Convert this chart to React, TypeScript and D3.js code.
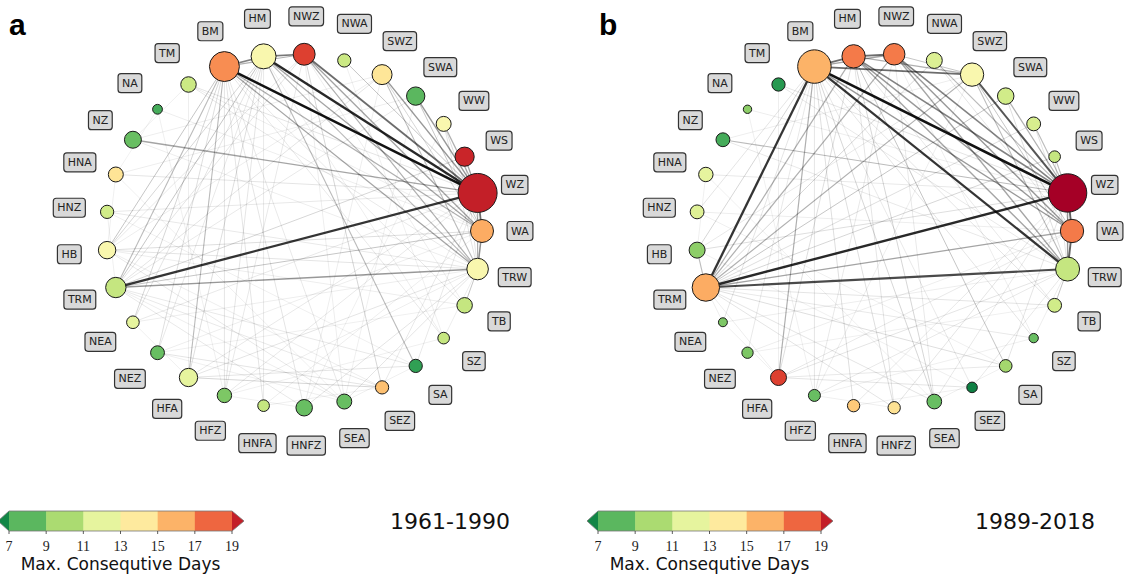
import { useEffect, useRef } from "react";
import * as d3 from "d3";

// circulation types, in circular-layout order (counter-clockwise from the right)
const nodeNames = ["WA", "WZ", "WS", "WW", "SWA", "SWZ", "NWA", "NWZ", "HM", "BM", "TM", "NA", "NZ", "HNA", "HNZ", "HB", "TRM", "NEA", "NEZ", "HFA", "HFZ", "HNFA", "HNFZ", "SEA", "SEZ", "SA", "SZ", "TB", "TRW"];

// max. consecutive days (node colour)
const daysA = [16.2, 20, 19.8, 13, 8, 14.2, 11, 19, 13, 17, 11, 7.5, 8.3, 14.3, 11.2, 13, 10.8, 12, 8.3, 12, 8.8, 10.8, 8.3, 8.3, 15.6, 7, 10.8, 10.8, 13];
const daysB = [17.5, 21, 10.8, 11.4, 11.2, 13, 11.6, 17.5, 17.5, 16, 6.7, 9.2, 7.5, 12, 11.7, 9.2, 16.2, 8.8, 8.8, 19, 8.3, 15.3, 14.4, 8.3, 5.8, 9.8, 8.3, 11.2, 10.8];

// node strength (node area)
const strengthA = [33, 95, 23, 14, 21, 25, 11, 30, 39, 56, 15, 6, 18, 14, 11, 19, 26, 10, 12, 21, 13, 8.5, 17, 14, 11, 11, 8.5, 15, 29];
const strengthB = [34, 92, 8.5, 12, 17, 34, 16, 29, 34, 70, 11, 4.4, 12, 13, 12, 16, 47, 5, 8, 16, 9, 9.5, 9.5, 13.5, 7, 10, 5.5, 12, 36];

type Edge = [string, string, number];

const edgesA: Edge[] = [
  ["BM", "WZ", 1.0], ["HM", "WZ", 0.9], ["TRM", "WZ", 0.85], ["NWZ", "WZ", 0.6], ["BM", "HM", 0.5],
  ["HM", "NWZ", 0.55], ["WZ", "WA", 0.6], ["WA", "TRW", 0.45], ["TRM", "TRW", 0.4], ["NZ", "WZ", 0.35],
  ["SWZ", "WZ", 0.4], ["SWA", "WZ", 0.4], ["WW", "WZ", 0.3], ["WS", "WZ", 0.35], ["BM", "TRW", 0.35],
  ["HM", "WA", 0.35], ["NWZ", "WA", 0.35], ["NWZ", "TRW", 0.3], ["BM", "WA", 0.3], ["HM", "TRW", 0.25],
  ["HM", "SA", 0.25], ["BM", "HFA", 0.25], ["BM", "TRM", 0.25], ["HM", "TRM", 0.2], ["BM", "HB", 0.2],
  ["SWZ", "TRW", 0.25], ["SWA", "WA", 0.2], ["NWA", "WZ", 0.2], ["BM", "NWZ", 0.3], ["TB", "TRW", 0.2],
  ["WZ", "TRW", 0.3], ["BM", "NEA", 0.15], ["HM", "HB", 0.15], ["BM", "NEZ", 0.12], ["HM", "HFA", 0.12],
  ["NWZ", "SEZ", 0.15], ["TRM", "WA", 0.2], ["TRM", "WS", 0.15], ["HFA", "SEZ", 0.15], ["NEZ", "SEZ", 0.1],
  ["HFA", "SA", 0.1], ["HB", "WA", 0.12], ["HNA", "WZ", 0.1], ["HB", "TRW", 0.1], ["TRM", "SWZ", 0.1],
  ["TRM", "HNFZ", 0.08], ["HFA", "TRW", 0.1], ["HNFZ", "TRW", 0.1], ["SEA", "TRW", 0.1], ["SEA", "HB", 0.08],
  ["SA", "TRM", 0.08], ["HFZ", "WZ", 0.08], ["HNFZ", "BM", 0.1], ["SEZ", "TRM", 0.08], ["TM", "WZ", 0.1],
  ["TM", "TRW", 0.08], ["NA", "WA", 0.06], ["HNZ", "WZ", 0.08], ["HNZ", "TRW", 0.08], ["NEA", "WZ", 0.08],
  ["NEZ", "WA", 0.06], ["HFA", "WZ", 0.08], ["HFZ", "NWZ", 0.08], ["HNFA", "HM", 0.08], ["SEA", "BM", 0.08],
  ["SZ", "BM", 0.08], ["SZ", "HM", 0.06], ["TB", "BM", 0.08], ["TB", "HB", 0.06], ["SA", "WZ", 0.08],
  ["SEZ", "WZ", 0.08], ["SEA", "NWZ", 0.06], ["HNFZ", "SWZ", 0.06], ["HFZ", "TRW", 0.06], ["NEA", "TRW", 0.06],
  ["HNA", "SWA", 0.06], ["NZ", "SWZ", 0.06], ["NZ", "TRW", 0.06], ["TM", "HFA", 0.06], ["NA", "HFZ", 0.05],
  ["HB", "SEZ", 0.06], ["HNA", "SEA", 0.05], ["HNZ", "SA", 0.05], ["NEZ", "TB", 0.05], ["HFZ", "SZ", 0.05],
  ["HNFA", "WA", 0.06], ["TRM", "SEA", 0.06], ["HNFZ", "WW", 0.05], ["SEA", "SWA", 0.05], ["SZ", "NWA", 0.05],
  ["TB", "NWZ", 0.06], ["TRM", "NWZ", 0.1], ["TRM", "SWA", 0.08], ["HB", "NWZ", 0.08], ["HB", "SWZ", 0.06],
  ["NEA", "HM", 0.1], ["NEZ", "HM", 0.08], ["HFZ", "HM", 0.1], ["HFZ", "BM", 0.1], ["HNFA", "BM", 0.1],
  ["TM", "WA", 0.06], ["WS", "TRW", 0.1], ["SWZ", "WA", 0.15], ["WW", "WA", 0.12], ["WW", "TRW", 0.1],
  ["HNA", "HB", 0.05], ["HNZ", "TRM", 0.05], ["NEA", "HFA", 0.05], ["HFZ", "HNFZ", 0.05], ["SEA", "SA", 0.05],
  ["SZ", "TRW", 0.06], ["TM", "NZ", 0.05], ["NA", "HNA", 0.04], ["HNFA", "SEZ", 0.05], ["NEZ", "SEA", 0.05],
];

const edgesB: Edge[] = [
  ["BM", "WZ", 1.0], ["BM", "TRW", 0.85], ["BM", "TRM", 0.85], ["TRM", "WZ", 0.9], ["TRM", "TRW", 0.75],
  ["SWZ", "WZ", 0.7], ["BM", "SWZ", 0.6], ["BM", "HM", 0.6], ["HM", "NWZ", 0.6], ["WZ", "WA", 0.65],
  ["WA", "TRW", 0.65], ["HM", "WZ", 0.5], ["NWZ", "WZ", 0.5], ["HM", "WA", 0.4], ["NWZ", "WA", 0.4],
  ["NWZ", "TRW", 0.35], ["HM", "TRW", 0.35], ["BM", "WA", 0.4], ["SWZ", "TRM", 0.3], ["BM", "HFA", 0.3],
  ["TRM", "WA", 0.35], ["TRM", "HM", 0.3], ["TRM", "NWZ", 0.3], ["TRM", "HB", 0.25], ["TRM", "SWA", 0.2],
  ["NZ", "WZ", 0.25], ["SWA", "WZ", 0.3], ["WW", "WZ", 0.25], ["WS", "WZ", 0.25], ["NWA", "WZ", 0.25],
  ["BM", "NWZ", 0.35], ["SEA", "BM", 0.15], ["SEA", "HM", 0.15], ["SA", "HM", 0.2], ["SA", "TRM", 0.12],
  ["WZ", "TRW", 0.4], ["TB", "TRW", 0.2], ["SWZ", "TRW", 0.25], ["TRM", "NWA", 0.15], ["TRM", "WS", 0.15],
  ["TRM", "WW", 0.12], ["TRM", "TB", 0.1], ["TRM", "SZ", 0.08], ["TRM", "HNFZ", 0.1], ["TRM", "SEA", 0.1],
  ["HB", "WZ", 0.12], ["HB", "BM", 0.15], ["HNZ", "BM", 0.1], ["NEA", "BM", 0.1], ["NEZ", "BM", 0.08],
  ["HFZ", "BM", 0.1], ["HNFA", "BM", 0.12], ["HNFZ", "BM", 0.12], ["SZ", "BM", 0.1], ["TB", "BM", 0.1],
  ["SEZ", "BM", 0.08], ["HFA", "HM", 0.12], ["HNFZ", "HM", 0.1], ["HFA", "SEZ", 0.1], ["HFA", "SA", 0.08],
  ["HFA", "TRW", 0.1], ["HFA", "WA", 0.08], ["HNFA", "WZ", 0.08], ["HNFZ", "WZ", 0.1], ["SEA", "WZ", 0.08],
  ["SA", "WZ", 0.1], ["SEZ", "TRW", 0.08], ["NZ", "TRW", 0.08], ["HNA", "WZ", 0.08], ["HNZ", "WA", 0.06],
  ["TM", "WZ", 0.1], ["TM", "TRW", 0.08], ["NA", "WZ", 0.06], ["NEA", "TRW", 0.06], ["NEZ", "WA", 0.06],
  ["HFZ", "TRW", 0.08], ["HFZ", "NWZ", 0.08], ["SEA", "NWZ", 0.08], ["SZ", "NWZ", 0.06], ["TB", "HM", 0.08],
  ["HB", "SWZ", 0.08], ["NZ", "SWZ", 0.06], ["HNA", "SEA", 0.05], ["HNZ", "SA", 0.05], ["NEZ", "TB", 0.05],
  ["HFZ", "SZ", 0.05], ["HB", "SEZ", 0.05], ["TM", "HFA", 0.06], ["NA", "HFZ", 0.05], ["SWZ", "WA", 0.2],
  ["SWZ", "HFZ", 0.06], ["WW", "WA", 0.1], ["WS", "TRW", 0.1], ["SWA", "TRW", 0.12], ["NWA", "WA", 0.1],
  ["HM", "SWZ", 0.3], ["NWZ", "SWZ", 0.2], ["HNA", "HB", 0.05], ["TRM", "NEA", 0.06], ["TRM", "HFA", 0.06],
  ["NEA", "HFA", 0.05], ["HFZ", "HNFZ", 0.05], ["SEA", "SA", 0.05], ["SZ", "TRW", 0.06], ["HNFA", "SEZ", 0.05],
];

// colour bar
const barTicks = [7, 9, 11, 13, 15, 17, 19];
const barLabel = "Max. Consequtive Days";

const panels = [
  { letter: "a", period: "1961-1990", days: daysA, strength: strengthA, edges: edgesA, cx: 294, barX: 9, periodX: 390 },
  { letter: "b", period: "1989-2018", days: daysB, strength: strengthB, edges: edgesB, cx: 884, barX: 598, periodX: 975 },
];

const W = 1137;
const H = 577;

export default function App() {
  const ref = useRef<SVGSVGElement>(null);

  useEffect(() => {
    if (!ref.current) return;
    const svg = d3.select(ref.current);
    svg.selectAll("*").remove();

    const color = (v: number) => {
      const t = Math.max(0, Math.min(1, (v - 5) / 16));
      return d3.interpolateRdYlGn(1 - t);
    };
    const angle = d3.scaleLinear().domain([0, nodeNames.length]).range([0, 2 * Math.PI]);
    const radius = d3.scaleSqrt().domain([0, 100]).range([0, 20]);
    const cy = 231;
    const rx = 188;
    const ry = 177;
    const lrx = 226;
    const lry = 215;

    panels.forEach((p) => {
      const g = svg.append("g");
      const pos = new Map<string, [number, number]>();
      nodeNames.forEach((n, i) => {
        const a = angle(i);
        pos.set(n, [p.cx + rx * Math.cos(a), cy - ry * Math.sin(a)]);
      });

      // edges, weakest first
      const edges = [...p.edges].sort((x, y) => x[2] - y[2]);
      g.append("g")
        .selectAll("line")
        .data(edges)
        .enter()
        .append("line")
        .attr("x1", (d) => pos.get(d[0])![0])
        .attr("y1", (d) => pos.get(d[0])![1])
        .attr("x2", (d) => pos.get(d[1])![0])
        .attr("y2", (d) => pos.get(d[1])![1])
        .attr("stroke", "#000")
        .attr("stroke-opacity", (d) => 0.05 + 0.88 * d[2])
        .attr("stroke-width", (d) => 0.6 + 2 * d[2]);

      // nodes
      g.append("g")
        .selectAll("circle")
        .data(nodeNames)
        .enter()
        .append("circle")
        .attr("cx", (d) => pos.get(d)![0])
        .attr("cy", (d) => pos.get(d)![1])
        .attr("r", (_d, i) => radius(p.strength[i]))
        .attr("fill", (_d, i) => color(p.days[i]))
        .attr("stroke", "#1a1a1a")
        .attr("stroke-width", 1);

      // labels
      const lg = g.append("g");
      nodeNames.forEach((n, i) => {
        const a = angle(i);
        const x = p.cx + lrx * Math.cos(a);
        const y = cy - lry * Math.sin(a);
        const lab = lg.append("g");
        const txt = lab
          .append("text")
          .attr("x", x)
          .attr("y", y)
          .attr("text-anchor", "middle")
          .attr("dominant-baseline", "central")
          .attr("font-family", "DejaVu Sans")
          .attr("font-size", 11)
          .attr("fill", "#222")
          .text(n);
        const w = (txt.node() as SVGTextElement).getComputedTextLength();
        lab
          .insert("rect", "text")
          .attr("x", x - w / 2 - 4)
          .attr("y", y - 9.5)
          .attr("width", w + 8)
          .attr("height", 19)
          .attr("rx", 3)
          .attr("fill", "#d9d9d9")
          .attr("stroke", "#333")
          .attr("stroke-width", 1.2);
      });

      // panel letter
      svg
        .append("text")
        .attr("x", p.cx - 285)
        .attr("y", 35)
        .attr("font-family", "Liberation Sans")
        .attr("font-weight", "bold")
        .attr("font-size", 30)
        .text(p.letter);

      // colour bar
      const xb = d3.scaleLinear().domain([7, 19]).range([p.barX, p.barX + 223]);
      const by = 511;
      const bh = 20;
      const cb = svg.append("g");
      d3.pairs(barTicks).forEach(([a, b]) => {
        cb.append("rect")
          .attr("x", xb(a))
          .attr("y", by)
          .attr("width", xb(b) - xb(a) + 0.5)
          .attr("height", bh)
          .attr("fill", color((a + b) / 2));
      });
      const x0 = xb(7);
      const x1 = xb(19);
      cb.append("path")
        .attr("d", `M${x0},${by} L${x0 - 11},${by + bh / 2} L${x0},${by + bh} Z`)
        .attr("fill", color(6));
      cb.append("path")
        .attr("d", `M${x1},${by} L${x1 + 12},${by + bh / 2} L${x1},${by + bh} Z`)
        .attr("fill", color(20));
      cb.append("path")
        .attr(
          "d",
          `M${x0},${by} L${x1},${by} L${x1 + 12},${by + bh / 2} L${x1},${by + bh} L${x0},${by + bh} L${x0 - 11},${by + bh / 2} Z`
        )
        .attr("fill", "none")
        .attr("stroke", "#777")
        .attr("stroke-width", 0.8);
      cb.selectAll(".tick")
        .data(barTicks)
        .enter()
        .append("line")
        .attr("x1", (d) => xb(d))
        .attr("x2", (d) => xb(d))
        .attr("y1", by + bh)
        .attr("y2", by + bh + 3)
        .attr("stroke", "#333")
        .attr("stroke-width", 0.8);
      cb.selectAll(".ticklabel")
        .data(barTicks)
        .enter()
        .append("text")
        .attr("x", (d) => xb(d))
        .attr("y", by + bh + 20)
        .attr("text-anchor", "middle")
        .attr("font-family", "Liberation Serif")
        .attr("font-size", 14)
        .attr("fill", "#222")
        .text((d) => d);
      cb.append("text")
        .attr("x", (x0 + x1) / 2)
        .attr("y", 570)
        .attr("text-anchor", "middle")
        .attr("font-family", "DejaVu Sans")
        .attr("font-size", 17)
        .attr("fill", "#111")
        .text(barLabel);

      svg
        .append("text")
        .attr("x", p.periodX)
        .attr("y", 529)
        .attr("font-family", "DejaVu Sans")
        .attr("font-size", 22)
        .attr("fill", "#111")
        .text(p.period);
    });
  }, []);

  return (
    <svg
      ref={ref}
      width={W}
      height={H}
      style={{ position: "absolute", left: 0, top: 0, background: "#fff" }}
    />
  );
}
